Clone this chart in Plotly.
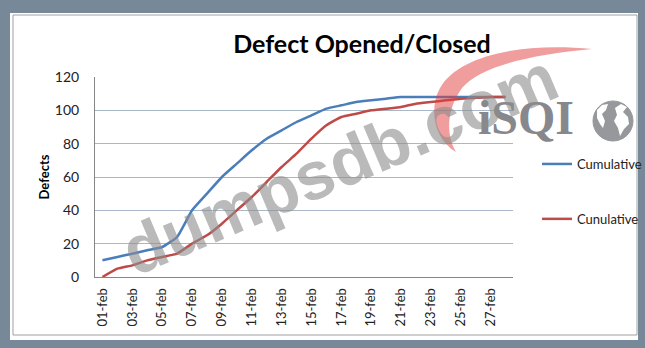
import plotly.graph_objects as go

# ---- data ----
days = [f"{d:02d}-feb" for d in range(1, 29)]
opened = [10, 12, 14, 16, 18, 24, 40, 50, 60, 68, 76, 83, 88, 93, 97, 101,
          103, 105, 106, 107, 108, 108, 108, 108, 108, 108, 108, 108]
closed = [0, 5, 7, 10, 12, 14, 20, 25, 32, 40, 48, 57, 66, 74, 83, 91,
          96, 98, 100, 101, 102, 104, 105, 106, 107, 107.5, 108, 108]
series_names = ["Cumulative", "Cunulative"]
tick_labels = days[::2]
y_ticks = [0, 20, 40, 60, 80, 100, 120]

W, H = 645, 348
L, R, T, B = 95, 513, 77, 277


def px(x):
    return (x - L) / (R - L)


def py(y):
    return (B - y) / (B - T)


def poly(points):
    return "M " + " L ".join("{:.4f},{:.4f}".format(px(a), py(b)) for a, b in points) + " Z"


fig = go.Figure()
fig.add_trace(go.Scatter(x=days, y=opened, name=series_names[0], mode="lines",
                         line=dict(color="#4a7ebb", width=2.5, shape="spline", smoothing=0.4)))
fig.add_trace(go.Scatter(x=days, y=closed, name=series_names[1], mode="lines",
                         line=dict(color="#be4b48", width=2.5, shape="spline", smoothing=0.4)))

shapes = [
    dict(type="rect", xref="paper", yref="paper", x0=px(10), x1=px(638), y0=py(340), y1=py(13),
         fillcolor="white", line=dict(width=0), layer="below"),
    dict(type="rect", xref="paper", yref="paper", x0=px(13), x1=px(637), y0=py(335), y1=py(15),
         fillcolor="rgba(0,0,0,0)", line=dict(color="#a0a0a0", width=1), layer="below"),
]

# ISQI logo crescent
pts = [(592, 49), (520, 42), (458, 56), (440, 88), (428, 110), (435, 140), (456, 152),
       (446, 135), (446, 110), (462, 88), (480, 66), (530, 55), (592, 49)]
path = "M {:.4f},{:.4f} ".format(px(pts[0][0]), py(pts[0][1]))
for i in range(1, len(pts), 3):
    c = pts[i:i + 3]
    path += "C " + " ".join("{:.4f},{:.4f}".format(px(a), py(b)) for a, b in c) + " "
path += "Z"
shapes.append(dict(type="path", xref="paper", yref="paper", path=path,
                   fillcolor="rgba(225,60,60,0.5)", line=dict(width=0), layer="above"))
# globe
shapes.append(dict(type="circle", xref="paper", yref="paper", x0=px(593), x1=px(633),
                   y0=py(141), y1=py(101), fillcolor="#96989c", line=dict(color="#96989c", width=1),
                   layer="above"))
shapes.append(dict(type="path", xref="paper", yref="paper",
                   path=poly([(597, 110), (602, 105), (608, 104), (606, 110), (602, 114),
                              (605, 121), (603, 128), (600, 124), (597, 118)]),
                   fillcolor="white", line=dict(width=0), layer="above"))
shapes.append(dict(type="path", xref="paper", yref="paper",
                   path=poly([(615, 108), (621, 104), (627, 107), (623, 112), (628, 117), (629, 124),
                              (624, 129), (620, 136), (618, 128), (614, 121), (617, 115)]),
                   fillcolor="white", line=dict(width=0), layer="above"))

annotations = [
    dict(text="iSQI", xref="paper", yref="paper", x=px(526), y=py(117), xanchor="center",
         yanchor="middle", showarrow=False,
         font=dict(family="Liberation Serif", size=48, color="#86888d", weight="bold")),
    dict(text="dumpsdb.com", xref="paper", yref="paper", x=px(339), y=py(164), xanchor="center",
         yanchor="middle", showarrow=False, textangle=-23,
         font=dict(family="Liberation Sans", size=68, color="rgba(140,140,140,0.6)", weight="bold")),
]

fig.update_layout(
    width=W, height=H,
    margin=dict(l=L, r=W - R, t=T, b=H - B, autoexpand=False),
    paper_bgcolor="#778899", plot_bgcolor="white",
    title=dict(text="Defect Opened/Closed", x=px(362), xref="paper", xanchor="center",
               y=1 - 44 / H, yref="container", yanchor="middle",
               font=dict(family="Lato", size=25, color="black", weight="bold")),
    xaxis=dict(type="category", range=[-0.5, 27.5], showgrid=False, showline=True,
               linecolor="#868686", linewidth=1, tickmode="array", tickvals=tick_labels,
               tickangle=-90, ticks="", ticklabelstandoff=5,
               tickfont=dict(family="Lato", size=13, color="#222")),
    yaxis=dict(range=[0, 120], tickvals=y_ticks, showgrid=True, gridcolor="#a8b8c8",
               gridwidth=1, showline=True, linecolor="#868686", linewidth=1, zeroline=False,
               ticks="", ticklabelstandoff=12,
               tickfont=dict(family="Lato", size=14, color="#222"),
               title=dict(text="Defects", standoff=2,
                          font=dict(family="Lato", size=13, color="black", weight="bold"))),
    legend=dict(x=px(537), y=py(149), xanchor="left", yanchor="top", xref="paper", yref="paper",
                bgcolor="rgba(0,0,0,0)", tracegroupgap=35, itemwidth=30,
                font=dict(family="Lato", size=13, color="#222")),
    shapes=shapes, annotations=annotations, showlegend=True,
)
fig.data[0].legendgroup = "a"
fig.data[1].legendgroup = "b"

fig.write_html("out.html")
